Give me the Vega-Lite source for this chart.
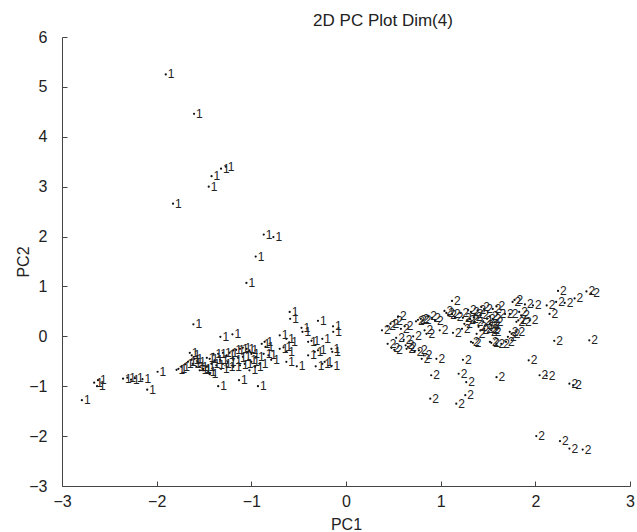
{
  "$schema": "https://vega.github.io/schema/vega-lite/v6.json",
  "autosize": "none",
  "width": 568,
  "height": 449,
  "padding": {"left": 62, "top": 37, "right": 7, "bottom": 46},
  "background": "white",
  "config": {
    "view": {"stroke": null},
    "font": "Liberation Sans"
  },
  "title": {
    "text": "2D PC Plot Dim(4)",
    "anchor": "middle",
    "dx": 37,
    "offset": -1,
    "fontSize": 17,
    "fontWeight": "normal",
    "font": "Liberation Sans",
    "color": "#222"
  },
  "data": {
    "values": [
      {"x": -1.904, "y": 5.25, "c": "1"},
      {"x": -1.605, "y": 4.46, "c": "1"},
      {"x": -1.42, "y": 3.21, "c": "1"},
      {"x": -1.32, "y": 3.36, "c": "1"},
      {"x": -1.27, "y": 3.40, "c": "1"},
      {"x": -1.45, "y": 3.0, "c": "1"},
      {"x": -1.827, "y": 2.66, "c": "1"},
      {"x": -0.869, "y": 2.04, "c": "1"},
      {"x": -0.767, "y": 1.99, "c": "1"},
      {"x": -0.954, "y": 1.60, "c": "1"},
      {"x": -1.052, "y": 1.07, "c": "1"},
      {"x": -1.612, "y": 0.24, "c": "1"},
      {"x": -2.79, "y": -1.28, "c": "1"},
      {"x": -2.66, "y": -0.93, "c": "1"},
      {"x": -2.62, "y": -0.88, "c": "1"},
      {"x": -2.63, "y": -1.0, "c": "1"},
      {"x": -2.355, "y": -0.85, "c": "1"},
      {"x": -2.31, "y": -0.83, "c": "1"},
      {"x": -2.27, "y": -0.87, "c": "1"},
      {"x": -2.23, "y": -0.84, "c": "1"},
      {"x": -2.15, "y": -0.86, "c": "1"},
      {"x": -2.10, "y": -1.07, "c": "1"},
      {"x": -1.99, "y": -0.71, "c": "1"},
      {"x": -1.79, "y": -0.67, "c": "1"},
      {"x": -1.77, "y": -0.65, "c": "1"},
      {"x": -1.74, "y": -0.61, "c": "1"},
      {"x": -1.70, "y": -0.56, "c": "1"},
      {"x": -1.67, "y": -0.51, "c": "1"},
      {"x": -1.63, "y": -0.47, "c": "1"},
      {"x": -1.60, "y": -0.45, "c": "1"},
      {"x": -1.57, "y": -0.51, "c": "1"},
      {"x": -1.545, "y": -0.61, "c": "1"},
      {"x": -1.51, "y": -0.68, "c": "1"},
      {"x": -1.47, "y": -0.43, "c": "1"},
      {"x": -1.65, "y": -0.33, "c": "1"},
      {"x": -1.19, "y": -0.28, "c": "1"},
      {"x": -1.16, "y": -0.27, "c": "1"},
      {"x": -1.12, "y": -0.25, "c": "1"},
      {"x": -1.09, "y": -0.23, "c": "1"},
      {"x": -1.05, "y": -0.25, "c": "1"},
      {"x": -1.02, "y": -0.28, "c": "1"},
      {"x": -1.23, "y": -0.33, "c": "1"},
      {"x": -1.26, "y": -0.38, "c": "1"},
      {"x": -1.30, "y": -0.33, "c": "1"},
      {"x": -1.35, "y": -0.35, "c": "1"},
      {"x": -1.40, "y": -0.35, "c": "1"},
      {"x": -1.44, "y": -0.45, "c": "1"},
      {"x": -1.39, "y": -0.48, "c": "1"},
      {"x": -1.33, "y": -0.47, "c": "1"},
      {"x": -1.30, "y": -0.55, "c": "1"},
      {"x": -1.25, "y": -0.51, "c": "1"},
      {"x": -1.19, "y": -0.47, "c": "1"},
      {"x": -1.14, "y": -0.43, "c": "1"},
      {"x": -1.09, "y": -0.41, "c": "1"},
      {"x": -1.03, "y": -0.47, "c": "1"},
      {"x": -1.00, "y": -0.51, "c": "1"},
      {"x": -1.07, "y": -0.55, "c": "1"},
      {"x": -1.12, "y": -0.58, "c": "1"},
      {"x": -1.19, "y": -0.61, "c": "1"},
      {"x": -1.26, "y": -0.61, "c": "1"},
      {"x": -1.32, "y": -0.65, "c": "1"},
      {"x": -1.37, "y": -0.58, "c": "1"},
      {"x": -1.42, "y": -0.55, "c": "1"},
      {"x": -1.47, "y": -0.61, "c": "1"},
      {"x": -1.51, "y": -0.65, "c": "1"},
      {"x": -1.545, "y": -0.68, "c": "1"},
      {"x": -1.58, "y": -0.61, "c": "1"},
      {"x": -1.62, "y": -0.55, "c": "1"},
      {"x": -1.63, "y": -0.38, "c": "1"},
      {"x": -1.46, "y": -0.72, "c": "1"},
      {"x": -1.44, "y": -0.76, "c": "1"},
      {"x": -0.96, "y": -0.61, "c": "1"},
      {"x": -0.95, "y": -0.41, "c": "1"},
      {"x": -1.00, "y": -0.35, "c": "1"},
      {"x": -1.02, "y": -0.68, "c": "1"},
      {"x": -1.327, "y": -0.01, "c": "1"},
      {"x": -1.20, "y": 0.04, "c": "1"},
      {"x": -1.35, "y": -1.0, "c": "1"},
      {"x": -1.13, "y": -0.88, "c": "1"},
      {"x": -0.93, "y": -1.0, "c": "1"},
      {"x": -0.595, "y": 0.49, "c": "1"},
      {"x": -0.59, "y": 0.35, "c": "1"},
      {"x": -0.296, "y": 0.31, "c": "1"},
      {"x": -0.137, "y": 0.20, "c": "1"},
      {"x": -0.135, "y": 0.09, "c": "1"},
      {"x": -0.47, "y": 0.17, "c": "1"},
      {"x": -0.46, "y": 0.09, "c": "1"},
      {"x": -0.40, "y": -0.11, "c": "1"},
      {"x": -0.365, "y": -0.09, "c": "1"},
      {"x": -0.25, "y": -0.05, "c": "1"},
      {"x": -0.154, "y": -0.25, "c": "1"},
      {"x": -0.145, "y": -0.31, "c": "1"},
      {"x": -0.40, "y": -0.38, "c": "1"},
      {"x": -0.33, "y": -0.31, "c": "1"},
      {"x": -0.296, "y": -0.28, "c": "1"},
      {"x": -0.32, "y": -0.60, "c": "1"},
      {"x": -0.25, "y": -0.55, "c": "1"},
      {"x": -0.226, "y": -0.51, "c": "1"},
      {"x": -0.154, "y": -0.60, "c": "1"},
      {"x": -0.63, "y": -0.51, "c": "1"},
      {"x": -0.52, "y": -0.60, "c": "1"},
      {"x": -0.70, "y": 0.02, "c": "1"},
      {"x": -0.63, "y": -0.05, "c": "1"},
      {"x": -0.60, "y": -0.12, "c": "1"},
      {"x": -0.70, "y": -0.25, "c": "1"},
      {"x": -0.66, "y": -0.22, "c": "1"},
      {"x": -0.63, "y": -0.31, "c": "1"},
      {"x": -0.89, "y": -0.15, "c": "1"},
      {"x": -0.86, "y": -0.11, "c": "1"},
      {"x": -0.85, "y": -0.21, "c": "1"},
      {"x": -0.87, "y": -0.35, "c": "1"},
      {"x": -0.82, "y": -0.38, "c": "1"},
      {"x": -0.79, "y": -0.47, "c": "1"},
      {"x": -0.91, "y": -0.55, "c": "1"},
      {"x": 0.38, "y": 0.12, "c": "2"},
      {"x": 0.437, "y": 0.20, "c": "2"},
      {"x": 0.47, "y": 0.25, "c": "2"},
      {"x": 0.51, "y": 0.31, "c": "2"},
      {"x": 0.55, "y": 0.40, "c": "2"},
      {"x": 0.58, "y": 0.15, "c": "2"},
      {"x": 0.62, "y": 0.20, "c": "2"},
      {"x": 0.53, "y": -0.03, "c": "2"},
      {"x": 0.44, "y": -0.15, "c": "2"},
      {"x": 0.48, "y": -0.23, "c": "2"},
      {"x": 0.51, "y": -0.27, "c": "2"},
      {"x": 0.61, "y": -0.07, "c": "2"},
      {"x": 0.63, "y": -0.18, "c": "2"},
      {"x": 0.64, "y": -0.25, "c": "2"},
      {"x": 0.655, "y": -0.21, "c": "2"},
      {"x": 0.71, "y": 0.0, "c": "2"},
      {"x": 0.725, "y": -0.31, "c": "2"},
      {"x": 0.77, "y": -0.28, "c": "2"},
      {"x": 0.80, "y": -0.45, "c": "2"},
      {"x": 0.82, "y": -0.38, "c": "2"},
      {"x": 0.76, "y": 0.33, "c": "2"},
      {"x": 0.79, "y": 0.35, "c": "2"},
      {"x": 0.81, "y": 0.32, "c": "2"},
      {"x": 0.74, "y": 0.30, "c": "2"},
      {"x": 0.87, "y": 0.40, "c": "2"},
      {"x": 0.91, "y": 0.37, "c": "2"},
      {"x": 0.94, "y": 0.31, "c": "2"},
      {"x": 0.83, "y": 0.12, "c": "2"},
      {"x": 0.85, "y": 0.05, "c": "2"},
      {"x": 0.99, "y": 0.12, "c": "2"},
      {"x": 0.955, "y": -0.45, "c": "2"},
      {"x": 1.13, "y": 0.07, "c": "2"},
      {"x": 1.12, "y": 0.71, "c": "2"},
      {"x": 1.04, "y": 0.51, "c": "2"},
      {"x": 1.06, "y": 0.47, "c": "2"},
      {"x": 1.08, "y": 0.42, "c": "2"},
      {"x": 1.12, "y": 0.45, "c": "2"},
      {"x": 1.15, "y": 0.39, "c": "2"},
      {"x": 1.21, "y": 0.47, "c": "2"},
      {"x": 1.235, "y": 0.37, "c": "2"},
      {"x": 1.225, "y": 0.15, "c": "2"},
      {"x": 1.25, "y": 0.25, "c": "2"},
      {"x": 1.29, "y": 0.53, "c": "2"},
      {"x": 1.32, "y": 0.49, "c": "2"},
      {"x": 1.36, "y": 0.45, "c": "2"},
      {"x": 1.39, "y": 0.52, "c": "2"},
      {"x": 1.43, "y": 0.59, "c": "2"},
      {"x": 1.46, "y": 0.55, "c": "2"},
      {"x": 1.31, "y": 0.35, "c": "2"},
      {"x": 1.36, "y": 0.29, "c": "2"},
      {"x": 1.40, "y": 0.19, "c": "2"},
      {"x": 1.38, "y": 0.05, "c": "2"},
      {"x": 1.42, "y": 0.12, "c": "2"},
      {"x": 1.32, "y": -0.11, "c": "2"},
      {"x": 1.235, "y": -0.47, "c": "2"},
      {"x": 1.49, "y": 0.35, "c": "2"},
      {"x": 1.52, "y": 0.25, "c": "2"},
      {"x": 1.535, "y": 0.12, "c": "2"},
      {"x": 1.52, "y": -0.11, "c": "2"},
      {"x": 0.90, "y": -0.78, "c": "2"},
      {"x": 1.19, "y": -0.75, "c": "2"},
      {"x": 2.24, "y": 0.91, "c": "2"},
      {"x": 2.54, "y": 0.90, "c": "2"},
      {"x": 2.59, "y": 0.86, "c": "2"},
      {"x": 2.415, "y": 0.76, "c": "2"},
      {"x": 2.31, "y": 0.67, "c": "2"},
      {"x": 2.22, "y": 0.69, "c": "2"},
      {"x": 2.12, "y": 0.62, "c": "2"},
      {"x": 2.15, "y": 0.45, "c": "2"},
      {"x": 1.975, "y": 0.62, "c": "2"},
      {"x": 1.89, "y": 0.64, "c": "2"},
      {"x": 1.76, "y": 0.69, "c": "2"},
      {"x": 1.78, "y": 0.73, "c": "2"},
      {"x": 1.73, "y": 0.45, "c": "2"},
      {"x": 1.68, "y": 0.45, "c": "2"},
      {"x": 1.59, "y": 0.60, "c": "2"},
      {"x": 1.55, "y": 0.55, "c": "2"},
      {"x": 1.83, "y": 0.49, "c": "2"},
      {"x": 1.85, "y": 0.42, "c": "2"},
      {"x": 1.82, "y": 0.32, "c": "2"},
      {"x": 1.80, "y": 0.29, "c": "2"},
      {"x": 1.87, "y": 0.29, "c": "2"},
      {"x": 1.94, "y": 0.32, "c": "2"},
      {"x": 1.75, "y": 0.05, "c": "2"},
      {"x": 1.80, "y": 0.09, "c": "2"},
      {"x": 2.20, "y": -0.09, "c": "2"},
      {"x": 2.57, "y": -0.08, "c": "2"},
      {"x": 1.59, "y": -0.15, "c": "2"},
      {"x": 1.64, "y": -0.15, "c": "2"},
      {"x": 1.69, "y": -0.11, "c": "2"},
      {"x": 1.93, "y": -0.48, "c": "2"},
      {"x": 2.045, "y": -0.78, "c": "2"},
      {"x": 2.12, "y": -0.79, "c": "2"},
      {"x": 1.59, "y": -0.82, "c": "2"},
      {"x": 1.27, "y": -0.92, "c": "2"},
      {"x": 2.36, "y": -0.95, "c": "2"},
      {"x": 2.40, "y": -0.98, "c": "2"},
      {"x": 0.89, "y": -1.25, "c": "2"},
      {"x": 1.165, "y": -1.35, "c": "2"},
      {"x": 1.26, "y": -1.18, "c": "2"},
      {"x": 2.01, "y": -2.0, "c": "2"},
      {"x": 2.26, "y": -2.10, "c": "2"},
      {"x": 2.36, "y": -2.25, "c": "2"},
      {"x": 2.50, "y": -2.27, "c": "2"},
      {"x": 1.52, "y": 0.40, "c": "2"},
      {"x": 1.55, "y": 0.35, "c": "2"},
      {"x": 1.57, "y": 0.28, "c": "2"},
      {"x": 1.54, "y": 0.22, "c": "2"},
      {"x": 1.60, "y": 0.45, "c": "2"},
      {"x": 1.52, "y": 0.15, "c": "2"},
      {"x": 1.55, "y": 0.08, "c": "2"},
      {"x": 1.73, "y": 0.09, "c": "2"},
      {"x": 1.71, "y": -0.01, "c": "2"},
      {"x": 1.535, "y": -0.13, "c": "2"},
      {"x": 1.34, "y": -0.13, "c": "2"},
      {"x": 1.46, "y": 0.15, "c": "2"},
      {"x": 1.51, "y": 0.08, "c": "2"},
      {"x": 1.35, "y": 0.38, "c": "2"},
      {"x": 1.42, "y": 0.42, "c": "2"},
      {"x": 1.28, "y": 0.32, "c": "2"},
      {"x": 1.45, "y": 0.30, "c": "2"},
      {"x": 1.47, "y": 0.22, "c": "2"}
    ]
  },
  "encoding": {
    "x": {
      "field": "x",
      "type": "quantitative",
      "scale": {"domain": [-3, 3], "nice": false, "zero": false},
      "axis": {
        "title": "PC1",
        "values": [-3, -2, -1, 0, 1, 2, 3],
        "grid": false,
        "tickSize": -5,
        "labelPadding": 12,
        "labelFlush": false,
        "labelOverlap": false,
        "labelFontSize": 16,
        "labelColor": "#222",
        "labelFont": "Liberation Sans",
        "domainColor": "#444",
        "tickColor": "#444",
        "titleFontSize": 16,
        "titleFontWeight": "normal",
        "titleFont": "Liberation Sans",
        "titleColor": "#222",
        "titleX": 284,
        "titleY": 43,
        "titleBaseline": "alphabetic"
      }
    },
    "y": {
      "field": "y",
      "type": "quantitative",
      "scale": {"domain": [-3, 6], "nice": false, "zero": false},
      "axis": {
        "title": "PC2",
        "values": [-3, -2, -1, 0, 1, 2, 3, 4, 5, 6],
        "grid": false,
        "tickSize": -5,
        "labelPadding": 20,
        "labelFlush": false,
        "labelOverlap": false,
        "labelFontSize": 16,
        "labelColor": "#222",
        "labelFont": "Liberation Sans",
        "domainColor": "#444",
        "tickColor": "#444",
        "titleFontSize": 16,
        "titleFontWeight": "normal",
        "titleFont": "Liberation Sans",
        "titleColor": "#222",
        "titleX": -34,
        "titleY": 224.5,
        "titleBaseline": "alphabetic"
      }
    }
  },
  "layer": [
    {
      "mark": {"type": "point", "filled": true, "shape": "circle", "size": 5, "color": "#111", "opacity": 1}
    },
    {
      "mark": {"type": "text", "align": "left", "baseline": "middle", "dx": 2, "fontSize": 12, "font": "Liberation Sans", "fill": "#222"},
      "encoding": {"text": {"field": "c"}}
    }
  ]
}
